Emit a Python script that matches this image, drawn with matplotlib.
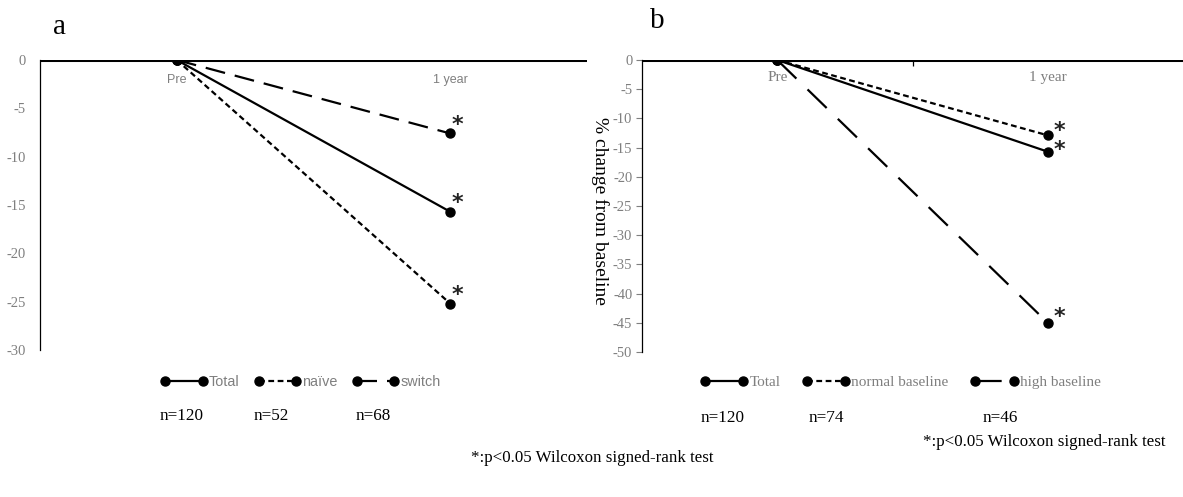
import matplotlib
matplotlib.use("Agg")
import matplotlib.pyplot as plt
from matplotlib.transforms import blended_transform_factory

# ---------------- data ----------------
timepoints = ["Pre", "1 year"]

a_labels = ["Total", "naïve", "switch"]
a_total = [0, -15.7]
a_naive = [0, -25.2]
a_switch = [0, -7.6]
a_n = ["n=120", "n=52", "n=68"]
a_yticks = [0, -5, -10, -15, -20, -25, -30]

b_labels = ["Total", "normal baseline", "high baseline"]
b_total = [0, -15.7]
b_normal = [0, -12.9]
b_high = [0, -45.0]
b_n = ["n=120", "n=74", "n=46"]
b_yticks = [0, -5, -10, -15, -20, -25, -30, -35, -40, -45, -50]

footnote = "*:p<0.05 Wilcoxon signed-rank test"
ylabel = "% change from baseline"

# ---------------- style ----------------
W, H = 1183, 497
fig = plt.figure(figsize=(W / 100, H / 100), dpi=100)
SERIF = ["Liberation Serif", "DejaVu Serif"]
SANS = ["Liberation Sans", "DejaVu Sans"]
GRAY = "#7f7f7f"
LW = 1.6
MS = 6.5
solid = dict(color="black", lw=LW, ls="-", marker="o", ms=MS)
short = dict(color="black", lw=LW, ls=(0, (2.6, 1.6)), marker="o", ms=MS)
longd = dict(color="black", lw=LW, ls=(0, (9, 4.5)), marker="o", ms=MS)
longd_b = dict(color="black", lw=LW, ls=(0, (12, 7)), marker="o", ms=MS)


def fx(px):
    return px / W


def fy(py):
    return 1 - py / H


def setup(ax, yticks, ylo, xtick_font, xtick_size, label_y, ticks_out):
    ax.set_xlim(-0.5, 1.5)
    ax.set_ylim(ylo, 0)
    for s in ["top", "right", "bottom"]:
        ax.spines[s].set_visible(False)
    ax.spines["left"].set_linewidth(0.9)
    ax.axhline(0, color="black", lw=2.2, zorder=1)
    ax.set_yticks(yticks)
    ax.set_yticklabels([str(v) for v in yticks], fontfamily=SERIF, fontsize=10.5, color=GRAY)
    if ticks_out:
        ax.tick_params(axis="y", length=4, width=0.8, direction="out", pad=3, color=GRAY)
    else:
        ax.tick_params(axis="y", length=0, pad=10)
    ax.set_xticks([])
    tr = blended_transform_factory(ax.transData, ax.transAxes)
    for i, t in enumerate(timepoints):
        ax.text(i, label_y, t, transform=tr, ha="center", va="center",
                fontfamily=xtick_font, fontsize=xtick_size, color=GRAY)


def star(ax, x, y, dx, dy):
    ax.annotate("*", (x, y), xytext=(dx, dy), textcoords="offset points",
                ha="center", va="center", fontsize=16, fontweight="bold",
                color="#222222", fontfamily=["DejaVu Sans"])


x = list(range(len(timepoints)))

# ---------------- panel a ----------------
axa = fig.add_axes([fx(40), fy(350), fx(587) - fx(40), fy(60) - fy(350)])
setup(axa, a_yticks, -30, SANS, 9, 0.93, False)
la1, = axa.plot(x, a_total, **solid, zorder=3)
la2, = axa.plot(x, a_naive, **short, zorder=3)
la3, = axa.plot(x, a_switch, **longd, zorder=3)
for ser in (a_switch, a_total, a_naive):
    star(axa, x[-1], ser[-1], 5.5, 6)

lega = axa.legend([la1, la2, la3], a_labels, loc="center left",
                  bbox_to_anchor=(0.2207, -0.110), borderpad=0, borderaxespad=0,
                  ncol=3, frameon=False, numpoints=2, handlelength=3.2,
                  handletextpad=0.1, columnspacing=1.05,
                  prop=dict(family=SANS, size=10.4))
for t in lega.get_texts():
    t.set_color(GRAY)

for px, s in zip([160, 254, 356], a_n):
    fig.text(fx(px), fy(416), s, fontfamily=SERIF, fontsize=12.3, va="center", ha="left")

fig.text(fx(59), fy(27), "a", fontfamily=SERIF, fontsize=21, ha="center", va="center")
fig.text(fx(592), fy(458), footnote, fontfamily=SERIF, fontsize=12.2, ha="center", va="center")

# ---------------- panel b ----------------
axb = fig.add_axes([fx(642), fy(352), fx(1183) - fx(642), fy(60) - fy(352)])
setup(axb, b_yticks, -50, SERIF, 11, 0.94, True)
axb.set_xticks([0.5], minor=True)
axb.xaxis.set_ticks_position("top")
axb.tick_params(axis="x", which="minor", direction="in", length=4, width=0.9,
                color="black", top=True, bottom=False)
lb1, = axb.plot(x, b_total, **solid, zorder=3)
lb2, = axb.plot(x, b_normal, **short, zorder=3)
lb3, = axb.plot(x, b_high, **longd_b, zorder=3)
star(axb, x[-1], b_normal[-1], 8.5, 3)
star(axb, x[-1], b_total[-1], 8.5, 1.5)
star(axb, x[-1], b_high[-1], 8.5, 4)

legb = axb.legend([lb1, lb2, lb3], b_labels, loc="center left",
                  bbox_to_anchor=(0.108, -0.103), borderpad=0, borderaxespad=0,
                  ncol=3, frameon=False, numpoints=2, handlelength=3.1,
                  handletextpad=0.1, columnspacing=1.45,
                  prop=dict(family=SERIF, size=11))
for t in legb.get_texts():
    t.set_color(GRAY)

for px, s in zip([701, 809, 983], b_n):
    fig.text(fx(px), fy(418), s, fontfamily=SERIF, fontsize=12.3, va="center", ha="left")

fig.text(fx(657), fy(21), "b", fontfamily=SERIF, fontsize=21, ha="center", va="center")
fig.text(fx(1044), fy(442), footnote, fontfamily=SERIF, fontsize=12.2, ha="center", va="center")
fig.text(fx(600), fy(211), ylabel, fontfamily=SERIF, fontsize=14, rotation=270,
         ha="center", va="center")

fig.savefig("out.png", dpi=100)
